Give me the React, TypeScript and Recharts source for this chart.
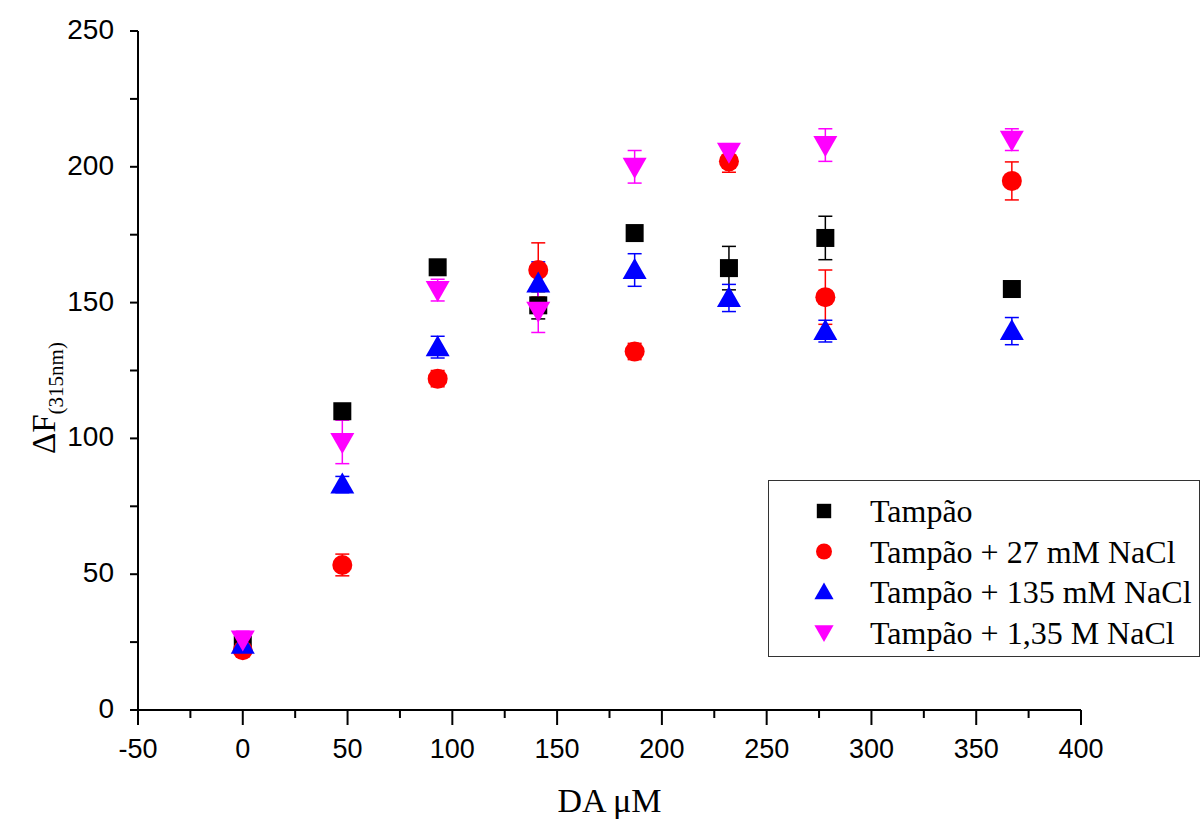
import {
  ScatterChart,
  Scatter,
  XAxis,
  YAxis,
  ErrorBar,
  Legend,
  Label,
} from 'recharts';

// DA concentration (µM)
const daConc = [0, 47.5, 93, 141, 187, 232, 278, 367];

const tampao = [24, 110, 163, 149, 175.6, 162.7, 173.8, 155];
const tampaoErr = [2, 2, 2, 5, 2, 8, 8, 2];

const nacl27 = [22, 53.4, 122, 162, 132, 202, 152, 194.8];
const nacl27Err = [2, 4, 3, 10, 3, 4, 10, 7];

const nacl135 = [24, 83, 133.6, 157, 162, 151.7, 139.5, 139.5];
const nacl135Err = [2, 3, 4, 8, 6, 5, 4, 5];

const nacl1350 = [26, 98.7, 154.6, 147, 200, 205.5, 208, 210];
const nacl1350Err = [3, 8, 4, 8, 6, 3, 6, 4];

const seriesNames = [
  'Tampão',
  'Tampão + 27 mM NaCl',
  'Tampão + 135 mM NaCl',
  'Tampão + 1,35 M NaCl',
];
const seriesColors = ['#000000', '#ff0000', '#0000ff', '#ff00ff'];
const seriesShapes = ['square', 'circle', 'up', 'down'];

const xTicks = [-50, -25, 0, 25, 50, 75, 100, 125, 150, 175, 200, 225, 250, 275, 300, 325, 350, 375, 400];
const yTicks = [0, 25, 50, 75, 100, 125, 150, 175, 200, 225, 250];

const toRows = (vals: number[], errs: number[]) =>
  daConc.map((x, i) => ({ x, y: vals[i], err: errs[i] }));

const datasets = [
  toRows(tampao, tampaoErr),
  toRows(nacl27, nacl27Err),
  toRows(nacl135, nacl135Err),
  toRows(nacl1350, nacl1350Err),
];

const sansFont = '"Liberation Sans", Arial, sans-serif';
const serifFont = '"Liberation Serif", "Times New Roman", serif';

function Marker({ cx, cy, kind, color, s = 1 }: any) {
  if (cx == null || cy == null) return null;
  if (kind === 'square') {
    const h = 9 * s;
    return <rect x={cx - h} y={cy - h} width={2 * h} height={2 * h} fill={color} />;
  }
  if (kind === 'circle') {
    return <circle cx={cx} cy={cy} r={10 * s} fill={color} />;
  }
  const w = 12 * s;
  const t = 12 * s;
  const b = 9 * s;
  if (kind === 'up') {
    return <polygon points={`${cx},${cy - t} ${cx + w},${cy + b} ${cx - w},${cy + b}`} fill={color} />;
  }
  return <polygon points={`${cx},${cy + t} ${cx + w},${cy - b} ${cx - w},${cy - b}`} fill={color} />;
}

const XTick = ({ x, y, payload }: any) => {
  const major = payload.value % 50 === 0;
  return (
    <g>
      <line x1={x} y1={y} x2={x} y2={y + (major ? 15 : 8)} stroke="#000" strokeWidth={2} />
      {major && (
        <text x={x} y={y + 48} textAnchor="middle" fontSize={27} fontFamily={sansFont} fill="#000">
          {payload.value}
        </text>
      )}
    </g>
  );
};

const YTick = ({ x, y, payload }: any) => {
  const major = payload.value % 50 === 0;
  return (
    <g>
      <line x1={x} y1={y} x2={x - 8} y2={y} stroke="#000" strokeWidth={2} />
      {major && (
        <text x={x - 24} y={y + 8} textAnchor="end" fontSize={28} fontFamily={sansFont} fill="#000">
          {payload.value}
        </text>
      )}
    </g>
  );
};

const LegendBox = () => (
  <div
    style={{
      width: 432,
      height: 177,
      border: '1.5px solid #333',
      boxSizing: 'border-box',
      background: '#fff',
      position: 'relative',
    }}
  >
    <svg width={430} height={175} style={{ position: 'absolute', left: 0, top: 0 }}>
      {seriesNames.map((name, i) => (
        <g key={name}>
          <Marker cx={55} cy={30 + i * 40.5} kind={seriesShapes[i]} color={seriesColors[i]} s={0.8} />
          <text x={101} y={30 + i * 40.5 + 11} fontSize={32} fontFamily={serifFont} fill="#000">
            {name}
          </text>
        </g>
      ))}
    </svg>
  </div>
);

export default function App() {
  return (
    <div style={{ position: 'absolute', left: 0, top: 0, background: '#fff' }}>
      <ScatterChart width={1203} height={822} margin={{ top: 31, right: 122, left: 0, bottom: 0 }}>
        <XAxis
          type="number"
          dataKey="x"
          domain={[-50, 400]}
          ticks={xTicks}
          interval={0}
          height={112}
          tickSize={0}
          tickMargin={0}
          tickLine={false}
          axisLine={{ stroke: '#000', strokeWidth: 2 }}
          tick={<XTick />}
        >
          <Label
            value="DA μM"
            position="insideBottom"
            offset={10}
            style={{ fontSize: 34, fontFamily: serifFont, fill: '#000' }}
          />
        </XAxis>
        <YAxis
          type="number"
          dataKey="y"
          domain={[0, 250]}
          ticks={yTicks}
          interval={0}
          width={138}
          tickSize={0}
          tickMargin={0}
          tickLine={false}
          axisLine={{ stroke: '#000', strokeWidth: 2 }}
          tick={<YTick />}
        >
          <Label
            content={() => (
              <text
                x={55}
                y={398}
                transform="rotate(-90, 55, 398)"
                textAnchor="middle"
                fontFamily={serifFont}
                fill="#000"
              >
                <tspan fontSize={33}>ΔF</tspan>
                <tspan fontSize={21} dy={8}>(315nm)</tspan>
              </text>
            )}
          />
        </YAxis>
        <Legend
          layout="horizontal"
          verticalAlign="middle"
          align="center"
          content={<LegendBox />}
          wrapperStyle={{ position: 'absolute', left: 768, top: 480, width: 432, height: 177 }}
        />
        {datasets.map((rows, i) => (
          <Scatter
            key={seriesNames[i]}
            name={seriesNames[i]}
            data={rows}
            fill={seriesColors[i]}
            isAnimationActive={false}
            shape={(p: any) => <Marker cx={p.cx} cy={p.cy} kind={seriesShapes[i]} color={seriesColors[i]} />}
          >
            <ErrorBar dataKey="err" direction="y" width={7} strokeWidth={1.5} stroke={seriesColors[i]} />
          </Scatter>
        ))}
      </ScatterChart>
    </div>
  );
}
